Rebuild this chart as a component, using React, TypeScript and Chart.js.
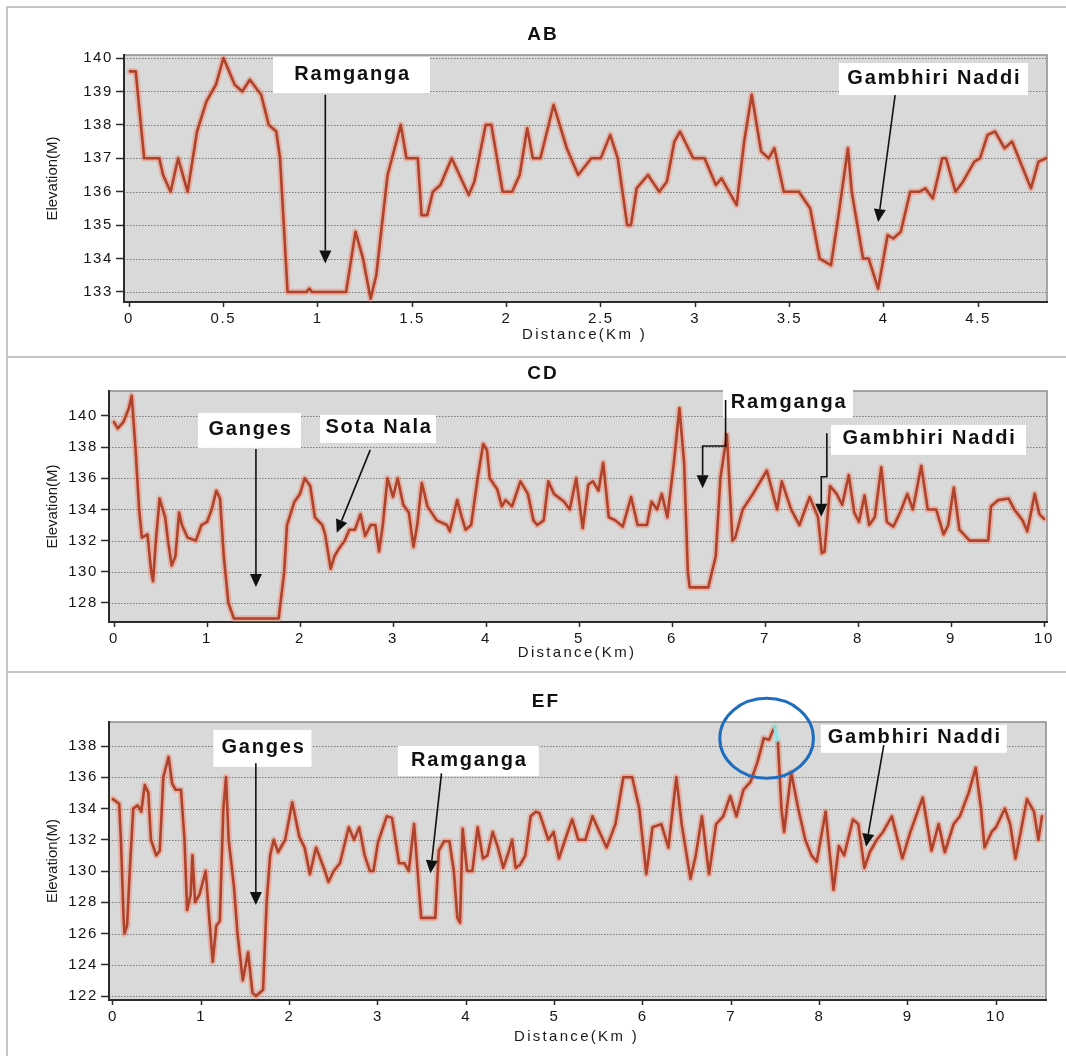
import React, { useEffect, useRef } from "react";
import { Chart, registerables } from "chart.js";

Chart.register(...registerables);

// ---------------- Data (distance in km, elevation in m) ----------------
const abDistance = [
  0.005, 0.035, 0.08, 0.16, 0.18, 0.22, 0.26, 0.31, 0.36, 0.41,
  0.46, 0.5, 0.56, 0.6, 0.64, 0.7, 0.74, 0.78, 0.8, 0.82,
  0.84, 0.94, 0.955, 0.97, 1.15, 1.2, 1.24, 1.28, 1.31, 1.35,
  1.37, 1.44, 1.47, 1.53, 1.55, 1.58, 1.61, 1.65, 1.71, 1.8,
  1.83, 1.89, 1.92, 1.98, 2.03, 2.07, 2.11, 2.14, 2.18, 2.25,
  2.32, 2.38, 2.45, 2.5, 2.55, 2.59, 2.64, 2.66, 2.69, 2.75,
  2.81, 2.85, 2.89, 2.92, 2.99, 3.05, 3.11, 3.14, 3.22, 3.26,
  3.3, 3.35, 3.39, 3.42, 3.47, 3.55, 3.61, 3.66, 3.72, 3.76,
  3.81, 3.83, 3.89, 3.92, 3.97, 4.02, 4.05, 4.09, 4.14, 4.19,
  4.22, 4.26, 4.31, 4.33, 4.38, 4.42, 4.48, 4.51, 4.55, 4.59,
  4.64, 4.68, 4.73, 4.78, 4.82, 4.86,
];
const abElevation = [
  139.6, 139.6, 137.0, 137.0, 136.5, 136.0, 137.0, 136.0, 137.8, 138.7,
  139.2, 140.0, 139.2, 139.0, 139.35, 138.9, 138.0, 137.8, 137.0, 135.0,
  133.0, 133.0, 133.1, 133.0, 133.0, 134.8, 134.0, 132.8, 133.5, 135.5,
  136.5, 138.0, 137.0, 137.0, 135.3, 135.3, 136.0, 136.2, 137.0, 135.9,
  136.3, 138.0, 138.0, 136.0, 136.0, 136.5, 137.9, 137.0, 137.0, 138.6,
  137.3, 136.5, 137.0, 137.0, 137.7, 137.0, 135.0, 135.0, 136.1, 136.5,
  136.0, 136.3, 137.5, 137.8, 137.0, 137.0, 136.2, 136.4, 135.6, 137.5,
  138.9, 137.2, 137.0, 137.3, 136.0, 136.0, 135.5, 134.0, 133.8, 135.3,
  137.3, 136.0, 134.0, 134.0, 133.1, 134.7, 134.6, 134.8, 136.0, 136.0,
  136.1, 135.8, 137.0, 137.0, 136.0, 136.3, 136.9, 137.0, 137.7, 137.8,
  137.3, 137.5, 136.8, 136.1, 136.9, 137.0,
];

const cdDistance = [
  0, 0.04, 0.1, 0.16, 0.19, 0.23, 0.27, 0.3, 0.36, 0.4,
  0.42, 0.45, 0.49, 0.55, 0.58, 0.62, 0.66, 0.7, 0.73, 0.79,
  0.88, 0.94, 1.0, 1.05, 1.1, 1.14, 1.18, 1.23, 1.29, 1.77,
  1.83, 1.86, 1.94, 2.0, 2.05, 2.11, 2.16, 2.24, 2.27, 2.33,
  2.37, 2.42, 2.48, 2.53, 2.59, 2.65, 2.7, 2.76, 2.81, 2.85,
  2.89, 2.94, 3.0, 3.05, 3.11, 3.17, 3.22, 3.26, 3.31, 3.37,
  3.47, 3.58, 3.61, 3.69, 3.74, 3.78, 3.84, 3.91, 3.97, 4.01,
  4.04, 4.12, 4.17, 4.21, 4.28, 4.37, 4.45, 4.51, 4.55, 4.62,
  4.67, 4.73, 4.84, 4.9, 4.97, 5.04, 5.1, 5.15, 5.21, 5.26,
  5.32, 5.39, 5.47, 5.56, 5.63, 5.73, 5.78, 5.84, 5.89, 5.95,
  6.02, 6.08, 6.13, 6.17, 6.19, 6.39, 6.47, 6.52, 6.59, 6.65,
  6.68, 6.76, 6.87, 7.02, 7.13, 7.18, 7.28, 7.37, 7.48, 7.57,
  7.61, 7.64, 7.7, 7.77, 7.83, 7.9, 7.96, 8.01, 8.07, 8.12,
  8.18, 8.25, 8.31, 8.38, 8.46, 8.53, 8.59, 8.68, 8.75, 8.84,
  8.92, 8.97, 9.03, 9.09, 9.2, 9.27, 9.4, 9.43, 9.51, 9.62,
  9.68, 9.77, 9.82, 9.9, 9.95, 10.0,
];
const cdElevation = [
  139.6, 139.2, 139.6, 140.5, 141.3, 138.0, 134.0, 132.2, 132.4, 130.0,
  129.4, 132.0, 134.7, 133.5, 132.0, 130.4, 131.0, 133.8, 133.0, 132.2,
  132.0, 133.0, 133.2, 134.0, 135.2, 134.7, 131.0, 128.0, 127.0, 127.0,
  130.0, 133.0, 134.5, 135.0, 136.0, 135.5, 133.5, 133.0, 132.4, 130.2,
  131.0, 131.5, 132.0, 132.7, 132.7, 133.7, 132.3, 133.0, 133.0, 131.3,
  133.0, 136.0, 134.8, 136.0, 134.3, 133.8, 131.6, 133.0, 135.7, 134.2,
  133.3, 133.0, 132.6, 134.6, 133.5, 132.7, 133.0, 136.0, 138.2, 137.8,
  136.0, 135.3, 134.2, 134.6, 134.2, 135.8, 135.0, 133.3, 133.0, 133.3,
  135.8, 135.0, 134.5, 134.0, 136.0, 132.8, 135.6, 135.8, 135.2, 137.0,
  133.5, 133.3, 132.9, 134.8, 133.0, 133.0, 134.5, 134.0, 135.0, 133.5,
  137.0, 140.5, 137.0, 130.0, 129.0, 129.0, 131.0, 136.0, 138.8, 132.0,
  132.2, 134.0, 135.0, 136.5, 134.0, 135.8, 134.0, 133.0, 134.8, 133.5,
  131.2, 131.3, 135.5, 135.0, 134.3, 136.2, 133.8, 133.2, 134.9, 133.0,
  133.5, 136.7, 133.2, 132.9, 133.9, 135.0, 134.0, 136.8, 134.0, 134.0,
  132.4, 133.0, 135.4, 132.7, 132.0, 132.0, 132.0, 134.2, 134.6, 134.7,
  134.0, 133.3, 132.6, 135.0, 133.7, 133.4,
];

const efDistance = [
  0, 0.07, 0.09, 0.12, 0.13, 0.16, 0.19, 0.23, 0.28, 0.32,
  0.36, 0.4, 0.43, 0.49, 0.53, 0.57, 0.63, 0.67, 0.71, 0.77,
  0.81, 0.84, 0.88, 0.9, 0.93, 0.98, 1.05, 1.09, 1.13, 1.17,
  1.21, 1.25, 1.28, 1.31, 1.37, 1.41, 1.47, 1.53, 1.58, 1.62,
  1.7, 1.74, 1.78, 1.82, 1.87, 1.95, 2.03, 2.11, 2.17, 2.23,
  2.3, 2.4, 2.44, 2.5, 2.57, 2.67, 2.73, 2.79, 2.85, 2.91,
  2.95, 3.0, 3.1, 3.16, 3.24, 3.3, 3.35, 3.41, 3.45, 3.49,
  3.65, 3.69, 3.75, 3.81, 3.86, 3.9, 3.93, 3.96, 4.01, 4.07,
  4.13, 4.19, 4.24, 4.3, 4.36, 4.42, 4.48, 4.52, 4.56, 4.61,
  4.67, 4.73, 4.79, 4.83, 4.93, 4.99, 5.05, 5.12, 5.2, 5.27,
  5.35, 5.43, 5.51, 5.59, 5.69, 5.78, 5.88, 5.96, 6.04, 6.11,
  6.21, 6.29, 6.38, 6.44, 6.54, 6.6, 6.67, 6.75, 6.83, 6.91,
  6.99, 7.06, 7.14, 7.22, 7.3, 7.37, 7.43, 7.49, 7.53, 7.57,
  7.6, 7.68, 7.76, 7.84, 7.91, 7.97, 8.07, 8.11, 8.16, 8.22,
  8.28, 8.38, 8.44, 8.51, 8.57, 8.65, 8.72, 8.82, 8.94, 9.03,
  9.17, 9.27, 9.35, 9.42, 9.52, 9.59, 9.69, 9.77, 9.83, 9.87,
  9.95, 10.0, 10.1, 10.16, 10.22, 10.28, 10.35, 10.43, 10.48, 10.52,
];
const efElevation = [
  134.6, 134.3, 132.0, 127.0, 126.0, 126.5, 130.0, 134.0, 134.2, 133.8,
  135.5, 135.0, 132.0, 131.0, 131.3, 136.0, 137.3, 135.6, 135.2, 135.2,
  132.0, 127.5, 128.5, 131.0, 128.0, 128.5, 130.0, 127.0, 124.2, 126.5,
  126.8, 134.0, 136.0, 132.0, 129.0, 126.0, 123.0, 124.8, 122.2, 122.0,
  122.4, 128.0, 131.0, 132.0, 131.2, 132.0, 134.4, 132.2, 131.5, 129.8,
  131.5, 130.0, 129.3, 130.0, 130.5, 132.8, 132.0, 132.8, 131.0, 130.0,
  130.0, 131.8, 133.5, 133.4, 130.5, 130.5, 130.0, 133.0, 130.0, 127.0,
  127.0, 131.3, 131.9, 131.9, 130.0, 127.0, 126.7, 132.7, 130.0, 130.0,
  132.8, 130.8, 131.0, 132.5, 131.5, 130.2, 131.2, 132.0, 130.2, 130.4,
  131.0, 133.5, 133.8, 133.7, 132.0, 132.5, 130.8, 132.0, 133.3, 132.0,
  132.0, 133.5, 132.5, 131.5, 133.0, 136.0, 136.0, 134.0, 129.8, 132.8,
  133.0, 131.5, 136.0, 133.0, 129.5, 131.0, 133.5, 129.8, 133.0, 133.5,
  134.8, 133.5, 135.2, 135.7, 137.0, 138.5, 138.4, 139.2, 138.2, 134.0,
  132.5, 136.3, 134.0, 132.0, 131.0, 130.6, 133.8, 131.5, 128.8, 131.6,
  131.0, 133.3, 133.0, 130.2, 131.2, 132.0, 132.5, 133.5, 130.8, 132.5,
  134.7, 131.3, 133.0, 131.2, 133.0, 133.5, 135.0, 136.6, 134.0, 131.5,
  132.5, 132.8, 134.0, 133.0, 130.8, 132.5, 134.6, 133.8, 132.0, 133.5,
];

// Tick values
const abXTicks = [0, 0.5, 1, 1.5, 2, 2.5, 3, 3.5, 4, 4.5];
const abYTicks = [133, 134, 135, 136, 137, 138, 139, 140];
const cdXTicks = [0, 1, 2, 3, 4, 5, 6, 7, 8, 9, 10];
const cdYTicks = [128, 130, 132, 134, 136, 138, 140];
const efXTicks = [0, 1, 2, 3, 4, 5, 6, 7, 8, 9, 10];
const efYTicks = [122, 124, 126, 128, 130, 132, 134, 136, 138];

// Highlighted (cyan) stretch of the EF profile peak, km
const efPeakRange = [7.48, 7.54];

// ---------------- Styling ----------------
const FONT = "'Liberation Sans', Arial, Helvetica, sans-serif";
const PLOT_BG = "#d9d9d9";
const GRID = "#7a7a7a";
const FRAME = "#8c8c8c";
const AXIS = "#2b2b2b";
const LINE = "#ad432c";
const HALO = "rgba(240,130,100,0.45)";
const CYAN = "#8fe0e0";
const CYAN_HALO = "rgba(150,230,230,0.6)";

type Label = { text: string; x: number; y: number; w: number; h: number };
type Panel = {
  id: string;
  top: number;
  height: number;
  distance: number[];
  elevation: number[];
  xTicks: number[];
  yTicks: number[];
  xMin: number;
  xMax: number;
  yMin: number;
  yMax: number;
  padTop: number;
  padRight: number;
  yWidth: number;
  xHeight: number;
  title: string;
  titlePos: [number, number];
  xTitle: string;
  xTitleY: number;
  yTitle: string;
  labels: Label[];
  arrows: [number, number][][];
  ellipse?: { x: number; y: number; rx: number; ry: number };
  peak?: number[];
};

const panels: Panel[] = [
  {
    id: "AB",
    top: 10,
    height: 345,
    distance: abDistance,
    elevation: abElevation,
    xTicks: abXTicks,
    yTicks: abYTicks,
    xMin: -0.027,
    xMax: 4.865,
    yMin: 132.7,
    yMax: 140.09,
    padTop: 45,
    padRight: 19,
    yWidth: 124,
    xHeight: 53,
    title: "AB",
    titlePos: [542, 25],
    xTitle: "Distance(Km )",
    xTitleY: 325,
    yTitle: "Elevation(M)",
    labels: [
      { text: "Ramganga", x: 1.179, y: 139.49, w: 157, h: 36 },
      { text: "Gambhiri Naddi", x: 4.263, y: 139.37, w: 189, h: 32 },
    ],
    arrows: [
      [
        [1.04, 138.9],
        [1.04, 133.85],
      ],
      [
        [4.06, 138.89],
        [3.97, 135.09],
      ],
    ],
  },
  {
    id: "CD",
    top: 360,
    height: 310,
    distance: cdDistance,
    elevation: cdElevation,
    xTicks: cdXTicks,
    yTicks: cdYTicks,
    xMin: -0.054,
    xMax: 10.032,
    yMin: 126.78,
    yMax: 141.6,
    padTop: 31,
    padRight: 19,
    yWidth: 109,
    xHeight: 48,
    title: "CD",
    titlePos: [542, 14],
    xTitle: "Distance(Km)",
    xTitleY: 293,
    yTitle: "Elevation(M)",
    labels: [
      { text: "Ganges", x: 1.457, y: 139.07, w: 103, h: 35 },
      { text: "Sota Nala", x: 2.839, y: 139.17, w: 116, h: 28 },
      { text: "Ramganga", x: 7.247, y: 140.77, w: 130, h: 28 },
      { text: "Gambhiri Naddi", x: 8.758, y: 138.46, w: 195, h: 30 },
    ],
    arrows: [
      [
        [1.526, 137.88],
        [1.526, 129.03],
      ],
      [
        [2.755, 137.82],
        [2.395, 132.51],
      ],
      [
        [6.576, 141.03],
        [6.576, 138.07],
        [6.329, 138.07],
        [6.329, 135.36],
      ],
      [
        [7.665, 138.89],
        [7.665, 136.1],
        [7.605, 136.1],
        [7.605, 133.54],
      ],
    ],
  },
  {
    id: "EF",
    top: 675,
    height: 381,
    distance: efDistance,
    elevation: efElevation,
    xTicks: efXTicks,
    yTicks: efYTicks,
    xMin: -0.045,
    xMax: 10.566,
    yMin: 121.744,
    yMax: 139.536,
    padTop: 47,
    padRight: 20,
    yWidth: 109,
    xHeight: 56,
    title: "EF",
    titlePos: [545, 27],
    xTitle: "Distance(Km )",
    xTitleY: 362,
    yTitle: "Elevation(M)",
    labels: [
      { text: "Ganges", x: 1.693, y: 137.85, w: 98, h: 37 },
      { text: "Ramganga", x: 4.024, y: 137.04, w: 141, h: 30 },
      { text: "Gambhiri Naddi", x: 9.069, y: 138.46, w: 186, h: 28 },
    ],
    arrows: [
      [
        [1.618, 136.89],
        [1.618, 127.82],
      ],
      [
        [3.72, 136.25],
        [3.595, 129.85],
      ],
      [
        [8.729, 138.06],
        [8.528, 131.55],
      ],
    ],
    ellipse: { x: 7.402, y: 138.49, rx: 46.8, ry: 40 },
    peak: efPeakRange,
  },
];

function makePoints(xs: number[], ys: number[]) {
  const n = Math.min(xs.length, ys.length);
  const out: { x: number; y: number }[] = [];
  for (let i = 0; i < n; i++) out.push({ x: xs[i], y: ys[i] });
  return out;
}

function drawArrow(ctx: CanvasRenderingContext2D, pts: [number, number][]) {
  const n = pts.length;
  const [tx, ty] = pts[n - 1];
  const [px, py] = pts[n - 2];
  const ang = Math.atan2(ty - py, tx - px);
  const L = 13;
  const W = 6;
  const bx = tx - L * Math.cos(ang);
  const by = ty - L * Math.sin(ang);
  ctx.strokeStyle = "#111";
  ctx.lineWidth = 1.6;
  ctx.setLineDash([]);
  ctx.beginPath();
  ctx.moveTo(pts[0][0], pts[0][1]);
  for (let i = 1; i < n - 1; i++) ctx.lineTo(pts[i][0], pts[i][1]);
  ctx.lineTo(bx, by);
  ctx.stroke();
  ctx.fillStyle = "#111";
  ctx.beginPath();
  ctx.moveTo(tx, ty);
  ctx.lineTo(bx + W * Math.sin(ang), by - W * Math.cos(ang));
  ctx.lineTo(bx - W * Math.sin(ang), by + W * Math.cos(ang));
  ctx.closePath();
  ctx.fill();
}

function ProfilePanel({ p }: { p: Panel }) {
  const ref = useRef<HTMLCanvasElement | null>(null);

  useEffect(() => {
    const canvas = ref.current;
    if (!canvas) return;
    const points = makePoints(p.distance, p.elevation);
    const inPeak = (c: any) =>
      !!p.peak && c.p0.parsed.x >= p.peak[0] && c.p1.parsed.x <= p.peak[1];

    const decor = {
      id: "decor" + p.id,
      beforeDraw(chart: any) {
        const ctx: any = chart.ctx;
        const a = chart.chartArea;
        const ys = chart.scales.y;
        ctx.save();
        ctx.fillStyle = "#ffffff";
        ctx.fillRect(0, 0, chart.width, chart.height);
        ctx.fillStyle = PLOT_BG;
        ctx.fillRect(a.left, a.top, a.right - a.left, a.bottom - a.top);
        ctx.strokeStyle = GRID;
        ctx.lineWidth = 1;
        ctx.setLineDash([1.5, 1.5]);
        for (const v of p.yTicks) {
          const y = Math.round(ys.getPixelForValue(v)) + 0.5;
          ctx.beginPath();
          ctx.moveTo(a.left, y);
          ctx.lineTo(a.right, y);
          ctx.stroke();
        }
        ctx.setLineDash([]);
        ctx.strokeStyle = FRAME;
        ctx.lineWidth = 1.5;
        ctx.beginPath();
        ctx.moveTo(a.left, a.top);
        ctx.lineTo(a.right, a.top);
        ctx.lineTo(a.right, a.bottom);
        ctx.stroke();
        ctx.restore();
        ctx.letterSpacing = "1.6px";
      },
      afterDraw(chart: any) {
        const ctx: any = chart.ctx;
        const a = chart.chartArea;
        const X = (v: number) => chart.scales.x.getPixelForValue(v);
        const Y = (v: number) => chart.scales.y.getPixelForValue(v);
        ctx.save();
        ctx.letterSpacing = "0px";
        if (p.ellipse) {
          ctx.strokeStyle = "#1f6dbf";
          ctx.lineWidth = 3;
          ctx.beginPath();
          ctx.ellipse(X(p.ellipse.x), Y(p.ellipse.y), p.ellipse.rx, p.ellipse.ry, 0, 0, Math.PI * 2);
          ctx.stroke();
        }
        // annotation boxes
        ctx.textAlign = "center";
        ctx.textBaseline = "middle";
        for (const lb of p.labels) {
          const cx = X(lb.x);
          const cy = Y(lb.y);
          ctx.fillStyle = "#ffffff";
          ctx.fillRect(cx - lb.w / 2, cy - lb.h / 2, lb.w, lb.h);
          ctx.fillStyle = "#111";
          ctx.font = `bold 20px ${FONT}`;
          ctx.letterSpacing = "1.8px";
          ctx.fillText(lb.text, cx + 1, cy - 1);
        }
        ctx.letterSpacing = "0px";
        for (const ar of p.arrows) {
          drawArrow(
            ctx,
            ar.map(([x, y]) => [X(x), Y(y)] as [number, number])
          );
        }
        // panel title
        ctx.fillStyle = "#111";
        ctx.font = `bold 19px ${FONT}`;
        ctx.letterSpacing = "2px";
        ctx.fillText(p.title, p.titlePos[0] + 1, p.titlePos[1]);
        // x axis title
        ctx.fillStyle = "#1a1a1a";
        ctx.font = `15px ${FONT}`;
        ctx.letterSpacing = "2.3px";
        ctx.fillText(p.xTitle, (a.left + a.right) / 2 - 1, p.xTitleY);
        // y axis title
        ctx.letterSpacing = "0px";
        ctx.translate(53, (a.top + a.bottom) / 2);
        ctx.rotate(-Math.PI / 2);
        ctx.fillText(p.yTitle, 0, 0);
        ctx.restore();
      },
    };

    const tickFont = { family: FONT, size: 15 };
    const chart = new Chart(canvas, {
      type: "line",
      data: {
        datasets: [
          {
            data: points,
            borderColor: LINE,
            borderWidth: 2.6,
            borderJoinStyle: "round",
            borderCapStyle: "round",
            pointRadius: 0,
            pointHoverRadius: 0,
            tension: 0,
            order: 1,
            segment: { borderColor: (c: any) => (inPeak(c) ? CYAN : undefined) },
          },
          {
            data: points,
            borderColor: HALO,
            borderWidth: 6.5,
            borderJoinStyle: "round",
            borderCapStyle: "round",
            pointRadius: 0,
            pointHoverRadius: 0,
            tension: 0,
            order: 2,
            segment: { borderColor: (c: any) => (inPeak(c) ? CYAN_HALO : undefined) },
          },
        ],
      } as any,
      options: {
        animation: false,
        responsive: false,
        maintainAspectRatio: false,
        events: [],
        layout: { padding: { left: 0, right: p.padRight, top: p.padTop, bottom: 0 } },
        plugins: {
          legend: { display: false },
          tooltip: { enabled: false },
          title: { display: false },
        },
        scales: {
          x: {
            type: "linear",
            min: p.xMin,
            max: p.xMax,
            afterBuildTicks: (s: any) => {
              s.ticks = p.xTicks.map((v) => ({ value: v }));
            },
            afterFit: (s: any) => {
              s.height = p.xHeight;
              s.paddingLeft = 0;
              s.paddingRight = 0;
            },
            grid: {
              drawOnChartArea: false,
              drawTicks: true,
              tickLength: 5,
              tickColor: AXIS,
              tickWidth: 1.5,
            },
            border: { display: true, color: AXIS, width: 2 },
            ticks: {
              autoSkip: false,
              maxRotation: 0,
              padding: 3,
              color: "#151515",
              font: tickFont,
              callback: (v: any) => String(v),
            },
          },
          y: {
            type: "linear",
            min: p.yMin,
            max: p.yMax,
            afterBuildTicks: (s: any) => {
              s.ticks = p.yTicks.map((v) => ({ value: v }));
            },
            afterFit: (s: any) => {
              s.width = p.yWidth;
              s.paddingTop = 0;
              s.paddingBottom = 0;
            },
            grid: {
              drawOnChartArea: false,
              drawTicks: true,
              tickLength: 8,
              tickColor: AXIS,
              tickWidth: 1.5,
            },
            border: { display: true, color: AXIS, width: 2 },
            ticks: {
              autoSkip: false,
              padding: 3,
              color: "#151515",
              font: tickFont,
              callback: (v: any) => String(v),
            },
          },
        },
      } as any,
      plugins: [decor as any],
    });
    return () => chart.destroy();
  }, [p]);

  return (
    <canvas
      ref={ref}
      width={1066}
      height={p.height}
      style={{ position: "absolute", left: 0, top: p.top, width: 1066, height: p.height }}
    />
  );
}

export default function App() {
  const line = "#c6c6c6";
  return (
    <div
      style={{
        position: "absolute",
        left: 0,
        top: 0,
        width: 1066,
        height: 1056,
        background: "#ffffff",
        overflow: "hidden",
      }}
    >
      {panels.map((p) => (
        <ProfilePanel key={p.id} p={p} />
      ))}
      <div style={{ position: "absolute", left: 6, top: 6, width: 1060, height: 2, background: line }} />
      <div style={{ position: "absolute", left: 6, top: 356, width: 1060, height: 2, background: line }} />
      <div style={{ position: "absolute", left: 6, top: 671, width: 1060, height: 2, background: line }} />
      <div style={{ position: "absolute", left: 6, top: 6, width: 2, height: 1050, background: line }} />
    </div>
  );
}
